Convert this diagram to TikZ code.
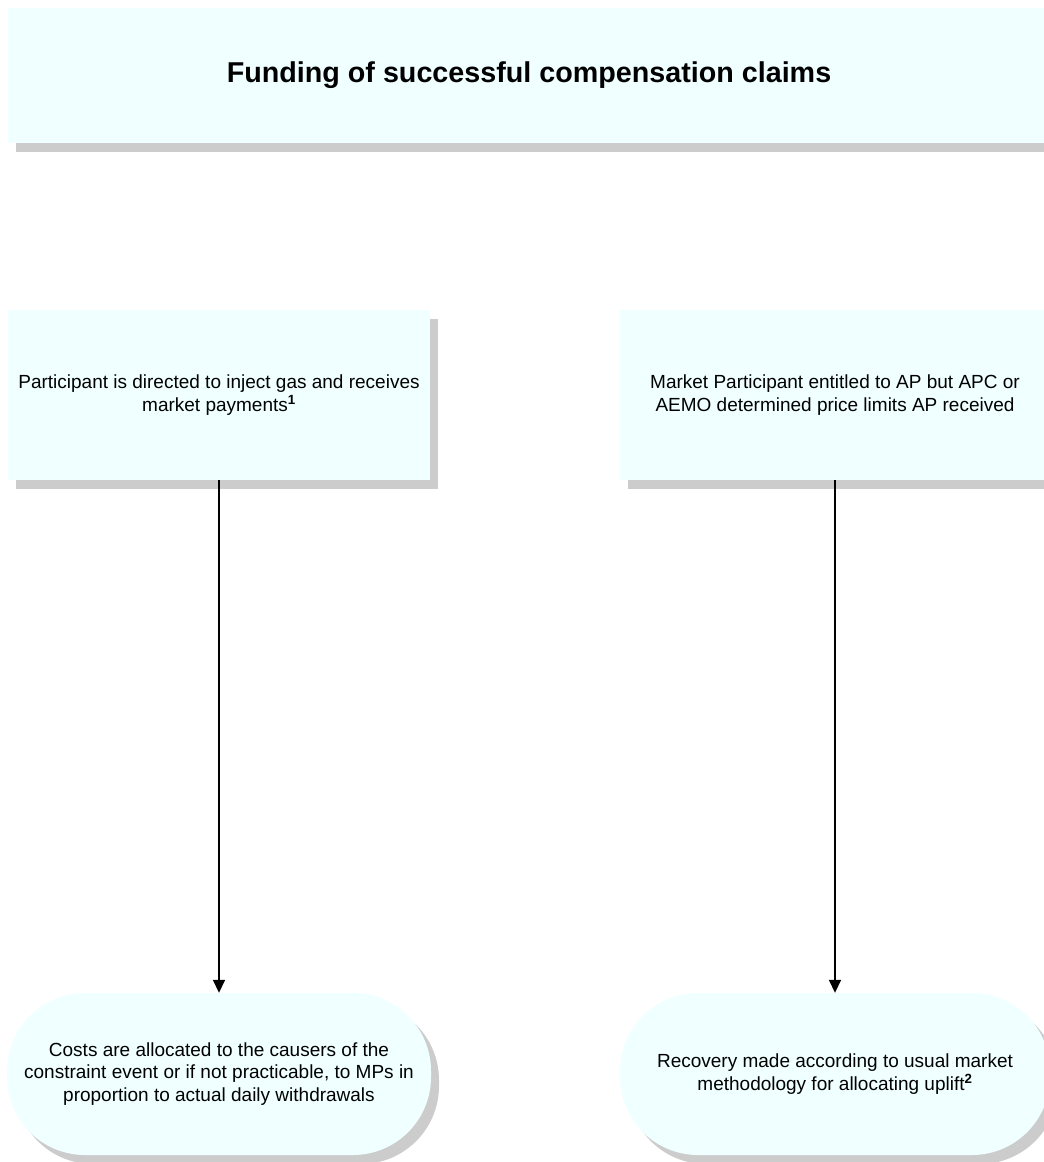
\documentclass[tikz,border=0pt]{standalone}
\usepackage{fontspec}
\setmainfont{Liberation Sans}
\usetikzlibrary{arrows.meta,shadows}
\definecolor{boxfill}{RGB}{240,255,255}
\definecolor{shadowgray}{RGB}{204,204,204}
\tikzset{
  x=1pt,y=-1pt,
  base/.style={fill=boxfill, draw=none, align=center, inner sep=0pt,
    drop shadow={shadow xshift=8pt, shadow yshift=-9pt, fill=shadowgray, opacity=1},
    font=\fontsize{19}{22.5}\selectfont},
  procbox/.style={base, rectangle, minimum height=170pt},
  endbox/.style={base, rounded corners=78pt, minimum height=162pt},
  flow/.style={draw=black, line width=1.6pt, -{Triangle[length=13pt,width=12pt]}},
}
\begin{document}
\begin{tikzpicture}
\useasboundingbox (0,0) rectangle (1044,1162);
\clip (0,0) rectangle (1044,1162);
\node[base, rectangle, minimum width=1042pt, minimum height=135pt,
  font=\fontsize{28.7}{32}\selectfont\bfseries] (title) at (529,75.5)
  {Funding of successful compensation claims};
\node[procbox, minimum width=422pt] (p1) at (219,395)
  {Participant is directed to inject gas and receives\\market payments\textsuperscript{\textbf{1}}};
\node[procbox, minimum width=430pt] (p2) at (835,395)
  {Market Participant entitled to AP but APC or\\AEMO determined price limits AP received};
\node[endbox, minimum width=424pt] (e1) at (219,1074)
  {Costs are allocated to the causers of the\\constraint event or if not practicable, to MPs in\\proportion to actual daily withdrawals};
\node[endbox, minimum width=430pt] (e2) at (835,1074)
  {Recovery made according to usual market\\methodology for allocating uplift\textsuperscript{\textbf{2}}};
\draw[flow] (p1.south) -- (e1.north);
\draw[flow] (p2.south) -- (e2.north);
\end{tikzpicture}
\end{document}
